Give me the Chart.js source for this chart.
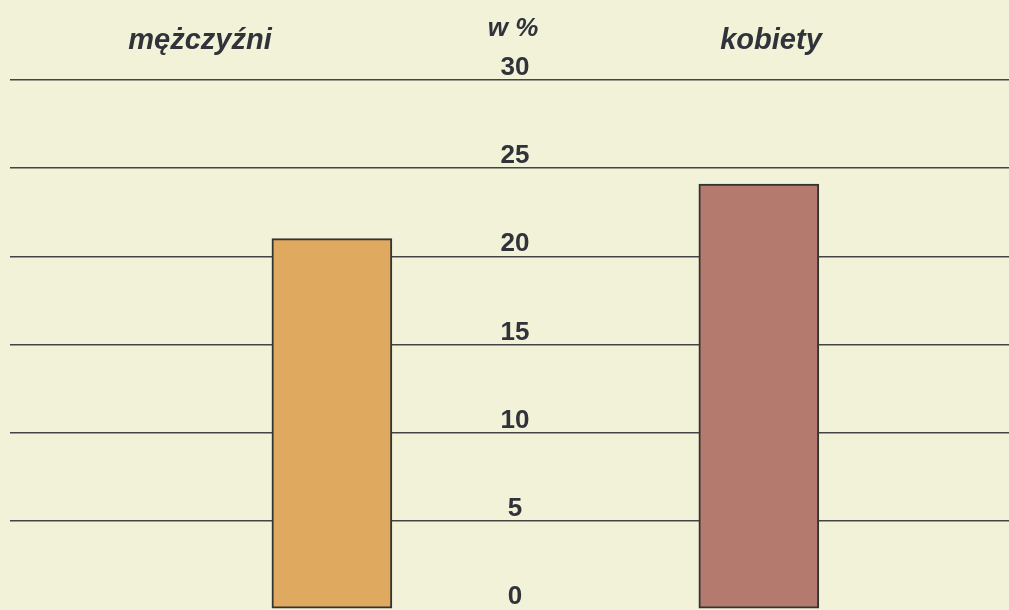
<!DOCTYPE html>
<html>
<head>
<meta charset="utf-8">
<script src="https://cdn.jsdelivr.net/npm/chart.js@4"></script>
<style>
  html, body { margin: 0; padding: 0; background: #f2f2d8; }
  #wrap { width: 1009px; height: 610px; position: relative; }
</style>
</head>
<body>
<div id="wrap"><canvas id="myChart"></canvas></div>
<script>
'use strict';

// data
var categories = ['mężczyźni', 'kobiety'];
var values = [21.0, 24.1];
var barColors = ['#e0a960', '#b47a6e'];
var yTicks = [0, 5, 10, 15, 20, 25, 30];
var unitLabel = 'w %';

var textColor = '#30333a';
var tickFont = 'bold 26px "Liberation Sans", Arial, sans-serif';
var unitFont = 'italic bold 26px "Liberation Sans", Arial, sans-serif';
var headFont = 'italic bold 29px "Liberation Sans", Arial, sans-serif';

// headers + tick labels drawn in the middle of the plot
var labelsPlugin = {
    id: 'centerLabels',
    afterDraw: function (chart) {
        var ctx = chart.ctx;
        var ys = chart.scales.y;
        var mid = 515;
        ctx.save();
        ctx.fillStyle = textColor;
        ctx.textAlign = 'center';
        ctx.textBaseline = 'alphabetic';

        ctx.font = tickFont;
        ys.ticks.forEach(function (t) {
            ctx.fillText(String(t.value), mid, ys.getPixelForValue(t.value) - 5);
        });
        ctx.font = unitFont;
        ctx.fillText(unitLabel, mid - 2, 36);

        ctx.font = headFont;
        ctx.fillText(categories[0], 200, 49);
        ctx.fillText(categories[1], 771, 49);
        ctx.restore();
    }
};

const ctx = document.getElementById('myChart');

new Chart(ctx, {
    type: 'bar',
    data: {
        datasets: [{
            data: values.map(function (v, i) { return {x: i, y: v}; }),
            backgroundColor: barColors,
            borderColor: '#333333',
            borderWidth: 2,
            borderSkipped: false,
            barThickness: 120
        }]
    },
    options: {
        responsive: true,
        maintainAspectRatio: false,
        animation: false,
        layout: {
            padding: {top: 80, left: 10, right: 0, bottom: 1}
        },
        plugins: {
            legend: {display: false},
            tooltip: {enabled: false}
        },
        scales: {
            x: {
                type: 'linear',
                display: false,
                offset: false,
                min: -0.754,
                max: 1.586
            },
            y: {
                min: 0,
                max: 30,
                afterBuildTicks: function (scale) {
                    scale.ticks = yTicks.map(function (v) { return {value: v}; });
                },
                ticks: {display: false},
                border: {display: false},
                grid: {
                    drawTicks: false,
                    lineWidth: 1.5,
                    color: function (c) {
                        return c.tick && c.tick.value === 0 ? 'rgba(0,0,0,0)' : '#444444';
                    }
                }
            }
        }
    },
    plugins: [labelsPlugin]
});
</script>
</body>
</html>
